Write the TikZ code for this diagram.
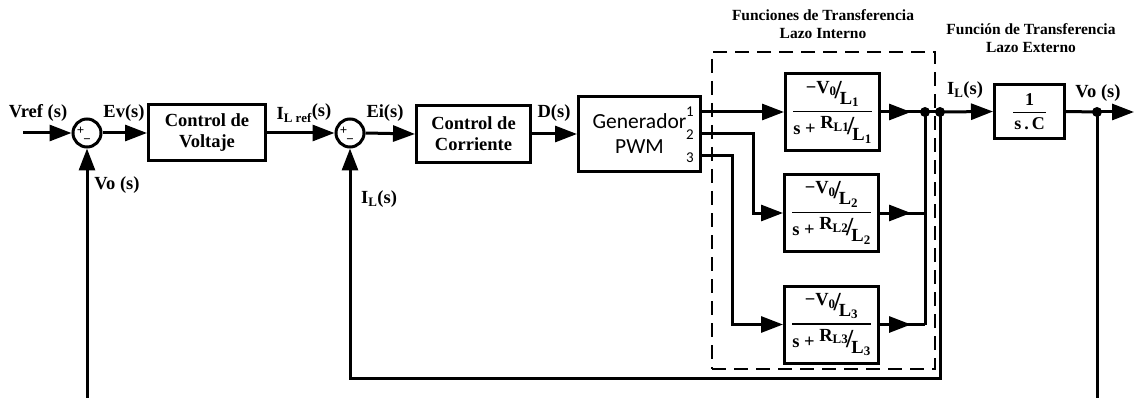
\documentclass[tikz,border=0pt]{standalone}
\usepackage{amsmath}
\usepackage{fontspec}
\setmainfont{Liberation Serif}
\newfontfamily\calib{Carlito}
\usetikzlibrary{arrows.meta}
\newcommand{\bigsl}{{\fontsize{26}{26}\selectfont\/\kern-2pt/\kern-2pt}}
\newcommand{\tfn}[1]{$\genfrac{}{}{1.4pt}{0}{\hbox{\kern3pt\raisebox{5pt}{−V\textsubscript{0}}\bigsl\raisebox{-6pt}{L\textsubscript{#1}}\kern3pt}}{\hbox{s + \raisebox{6pt}{R\textsubscript{L#1}}\bigsl\raisebox{-6pt}{L\textsubscript{#1}}}}$}
\tikzset{
  ln/.style={line width=3pt},
  arr/.style={line width=3pt, -{Triangle[length=22pt,width=16pt]}},
  blk/.style={draw, line width=3pt, inner sep=0pt, align=center, font=\bfseries\fontsize{18.5}{21}\selectfont},
  tfbox/.style={blk, minimum width=94pt, minimum height=77pt, font=\bfseries\fontsize{18.5}{20}\selectfont},
  sumc/.style={circle, draw, line width=3pt, minimum size=28pt, inner sep=0pt},
  pm/.style={inner sep=0pt, font=\bfseries\fontsize{13}{13}\selectfont},
  lbl/.style={inner sep=0pt, font=\bfseries\fontsize{18.5}{21}\selectfont},
  ttl/.style={inner sep=0pt, align=center, font=\bfseries\fontsize{15.5}{18.5}\selectfont},
  port/.style={inner sep=0pt, font=\calib\fontsize{15}{15}\selectfont},
  dotn/.style={circle, fill, minimum size=10pt, inner sep=0pt},
  grpbox/.style={draw, line width=2pt, dash pattern=on 14pt off 8pt, minimum width=223pt, minimum height=317pt, inner sep=0pt},
}
\begin{document}
\begin{tikzpicture}[x=1pt,y=-1pt]
\useasboundingbox (0,0) rectangle (1134,398);
% group frame
\node[grpbox] (grp) at (823.5,210.5) {};
% titles
\node[ttl] (t1) at (823,24) {Funciones de Transferencia\\Lazo Interno};
\node[ttl] (t2) at (1031,38) {Función de Transferencia\\Lazo Externo};
% summing junctions
\node[sumc] (s1) at (87,133) {};
\node[sumc] (s2) at (350,133) {};
\node[pm] (s1p) at (80.5,131) {+};
\node[pm] (s1m) at (87,141) {−};
\node[pm] (s2p) at (343.5,131) {+};
\node[pm] (s2m) at (350,141) {−};
% blocks
\node[blk, minimum width=117pt, minimum height=56pt] (cv) at (207,133) {Control de\\Voltaje};
\node[blk, minimum width=114pt, minimum height=57pt] (cc) at (473.5,134) {Control de\\Corriente};
\node[blk, minimum width=122pt, minimum height=75pt, font=\calib\fontsize{21.5}{25}\selectfont] (pwm) at (639.5,134) {Generador\\PWM};
\node[port] (n1) at (690,112) {1};
\node[port] (n2) at (690,135) {2};
\node[port] (n3) at (690,158) {3};
\node[tfbox] (tf1) at (832.5,112) {\tfn{1}};
\node[tfbox] (tf2) at (831.5,213) {\tfn{2}};
\node[tfbox] (tf3) at (831.5,324.5) {\tfn{3}};
\node[blk, minimum width=70pt, minimum height=54pt, font=\bfseries\fontsize{18}{20}\selectfont] (cap) at (1029.5,111.5) {$\genfrac{}{}{1.4pt}{0}{\hbox{1}}{\hbox{\kern1pt s\,.\,C\kern1pt}}$};
% coordinates
\coordinate (vin) at (23,133);
\coordinate (vfb) at (87,398);
\coordinate (p1) at ([yshift=22pt]pwm.east);
\coordinate (p3) at ([yshift=-22pt]pwm.east);
\coordinate (k2) at (753,0);
\coordinate (k3) at (732,0);
\coordinate (a1) at (911,0);
\coordinate (j1) at (925,112);
\coordinate (j2) at (940,112);
\coordinate (fb) at (940,378);
\coordinate (vo) at (1097,112);
\coordinate (out) at (1134,112);
\coordinate (vob) at (1097,398);
% connectors
\draw[arr] (vin) -- (s1.west);
\draw[arr] (s1.east) -- (cv.west);
\draw[arr] (cv.east) -- (s2.west);
\draw[arr] (s2.east) -- (cc.west);
\draw[arr] (cc.east) -- (pwm.west);
\draw[arr] (p1) -- (tf1.west);
\draw[arr] (pwm.east) -| (k2 |- tf2.west) -- (tf2.west);
\draw[arr] (p3) -| (k3 |- tf3.west) -- (tf3.west);
\draw[ln] (tf1.east) -- (j1);
\draw[arr] (tf1.east) -- (a1 |- tf1.east);
\draw[ln] (tf2.east) -- (j1 |- tf2.east);
\draw[arr] (tf2.east) -- (a1 |- tf2.east);
\draw[ln] (tf3.east) -- (j1 |- tf3.east);
\draw[arr] (tf3.east) -- (a1 |- tf3.east);
\draw[ln] (j1 |- tf3.east) -- (j1);
\draw[ln] (j1) -- (j2);
\draw[arr] (j2) -- (cap.west);
\draw[arr] (j2) -- (fb) -| (s2.south);
\draw[ln] (cap.east) -- (vo);
\draw[arr] (vo) -- (out);
\draw[ln] (vo) -- (vob);
\draw[arr] (vfb) -- (s1.south);
\node[dotn] (d1) at (j1) {};
\node[dotn] (d2) at (j2) {};
\node[dotn] (d3) at (vo) {};
% labels
\node[lbl] (lvref) at (38,113) {Vref (s)};
\node[lbl] (lev) at (124,113) {Ev(s)};
\node[lbl] (lilref) at (304,113) {I\textsubscript{L ref}\raisebox{3pt}{(s)}};
\node[lbl] (lei) at (385,113) {Ei(s)};
\node[lbl] (ld) at (554,113) {D(s)};
\node[lbl] (lvo1) at (117,185) {Vo (s)};
\node[lbl] (lil1) at (379,199) {I\textsubscript{L}(s)};
\node[lbl] (lil2) at (965,90) {I\textsubscript{L}(s)};
\node[lbl] (lvo2) at (1098,93) {Vo (s)};
\end{tikzpicture}
\end{document}
